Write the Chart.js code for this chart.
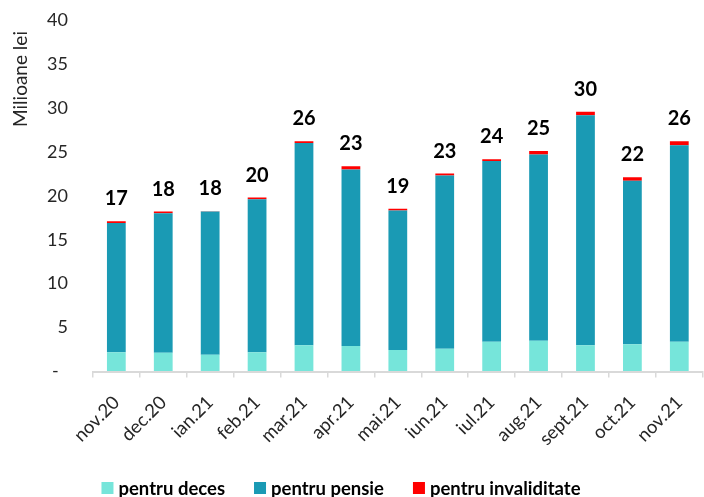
<!DOCTYPE html>
<html>
<head>
<meta charset="utf-8">
<script src="https://cdn.jsdelivr.net/npm/chart.js@4/dist/chart.umd.min.js"></script>
<style>
  html, body { margin: 0; padding: 0; background: #fff; overflow: hidden; }
  #wrap { width: 709px; height: 497px; }
</style>
</head>
<body>
<div id="wrap"><canvas id="chart" width="709" height="497"></canvas></div>
<script>
// luni si valori (milioane lei)
const months = ["nov.20", "dec.20", "ian.21", "feb.21", "mar.21", "apr.21", "mai.21",
  "iun.21", "iul.21", "aug.21", "sept.21", "oct.21", "nov.21"];
const deces = [2.2, 2.15, 1.9, 2.2, 3.0, 2.9, 2.45, 2.6, 3.4, 3.5, 3.0, 3.1, 3.4];
const pensie = [14.7, 15.85, 16.3, 17.4, 23.0, 20.1, 15.87, 19.7, 20.55, 21.2, 26.15, 18.6, 22.35];
const invaliditate = [0.2, 0.2, 0.05, 0.2, 0.2, 0.35, 0.2, 0.22, 0.2, 0.4, 0.4, 0.4, 0.45];
const yTicks = [0, 5, 10, 15, 20, 25, 30, 35, 40];

const colors = ["#76E5DA", "#1A9AB4", "#FF0000"];
const names = ["pentru deces", "pentru pensie", "pentru invaliditate"];
const fontFamily = "Lato, 'Open Sans', sans-serif";

// totalul deasupra fiecarei coloane
const totalsPlugin = {
  id: "totals",
  afterDatasetsDraw(chart) {
    const ctx = chart.ctx;
    const top = chart.getDatasetMeta(2).data;
    ctx.save();
    ctx.font = "bold 20px " + fontFamily;
    ctx.fillStyle = "#000";
    ctx.textAlign = "center";
    ctx.textBaseline = "alphabetic";
    months.forEach((m, i) => {
      const total = deces[i] + pensie[i] + invaliditate[i];
      ctx.fillText(String(Math.round(total)), top[i].x, top[i].y - 16);
    });
    ctx.restore();
  }
};

// titlul axei Y si legenda de jos
const extrasPlugin = {
  id: "extras",
  afterDraw(chart) {
    const ctx = chart.ctx;
    ctx.save();
    ctx.font = "19px " + fontFamily;
    ctx.fillStyle = "#262626";
    ctx.translate(21, 79);
    ctx.rotate(-Math.PI / 2);
    ctx.textAlign = "center";
    ctx.textBaseline = "middle";
    ctx.fillText("Milioane lei", 0, 0);
    ctx.restore();

    ctx.save();
    ctx.font = "bold 18.5px " + fontFamily;
    ctx.textBaseline = "middle";
    const box = 12, gap = 5, spacing = 29, y = 488;
    const widths = names.map(n => box + gap + ctx.measureText(n).width);
    const total = widths.reduce((a, b) => a + b, 0) + spacing * (names.length - 1);
    let x = 341 - total / 2;
    names.forEach((n, i) => {
      ctx.fillStyle = colors[i];
      ctx.fillRect(x, y - box / 2, box, box);
      ctx.fillStyle = "#000";
      ctx.fillText(n, x + box + gap, y + 1);
      x += widths[i] + spacing;
    });
    ctx.restore();
  }
};

const series = [deces, pensie, invaliditate];

new Chart(document.getElementById("chart"), {
  type: "bar",
  data: {
    labels: months,
    datasets: series.map((d, i) => ({
      label: names[i],
      data: d,
      backgroundColor: colors[i],
      borderWidth: 0,
      categoryPercentage: 1,
      barPercentage: 0.4
    }))
  },
  options: {
    responsive: false,
    animation: false,
    devicePixelRatio: 1,
    layout: { padding: { left: 42, top: 20, right: 0, bottom: 33 } },
    plugins: {
      legend: { display: false },
      tooltip: { enabled: false }
    },
    scales: {
      x: {
        stacked: true,
        grid: {
          offset: true,
          drawOnChartArea: false,
          drawTicks: true,
          tickLength: 6,
          color: "#d9d9d9",
          lineWidth: 1.5
        },
        border: { display: true, color: "#d9d9d9", width: 2 },
        ticks: {
          minRotation: 45,
          maxRotation: 45,
          padding: 14,
          color: "#262626",
          font: { family: fontFamily, size: 18.5 }
        }
      },
      y: {
        stacked: true,
        min: 0,
        max: 40,
        afterBuildTicks(scale) {
          scale.ticks = yTicks.map(v => ({ value: v }));
        },
        // spatiu intre etichete si zona graficului, fara linii vizibile
        grid: {
          drawOnChartArea: false,
          drawTicks: true,
          tickLength: 20,
          color: "rgba(0,0,0,0)"
        },
        border: { display: false },
        ticks: {
          padding: 5,
          color: "#262626",
          font: { family: fontFamily, size: 18 },
          callback: v => (v === 0 ? "-  " : String(v))
        }
      }
    }
  },
  plugins: [totalsPlugin, extrasPlugin]
});
</script>
</body>
</html>
